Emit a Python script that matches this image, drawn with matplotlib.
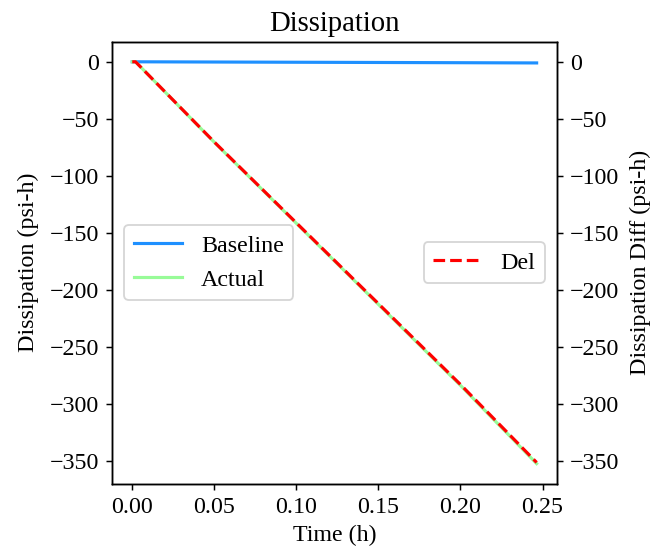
import matplotlib
matplotlib.use("Agg")
import matplotlib.pyplot as plt

plt.rcParams['font.family'] = ['Liberation Serif', 'DejaVu Serif']
plt.rcParams['font.size'] = 13

# значення
time_h = [0.0, 0.002, 0.05, 0.10, 0.15, 0.20, 0.2464]
baseline = [0.0, 0.0, -0.2, -0.4, -0.6, -0.8, -1.0]
actual = [0.0, 0.0, -70.5, -141.5, -212.5, -283.5, -352.0]
delta = [0.0, 0.0, -70.3, -141.1, -211.9, -282.7, -351.0]

dpi = 133
fig, ax = plt.subplots(figsize=(659 / dpi, 556 / dpi), dpi=dpi)
fig.subplots_adjust(left=0.17, right=0.845, top=0.925, bottom=0.13)

ax.plot(time_h, baseline, color='dodgerblue', linewidth=1.7, label='Baseline')
ax.plot(time_h, actual, color='palegreen', linewidth=1.7, label='Actual')
ax.set_xlabel('Time (h)')
ax.set_ylabel('Dissipation (psi-h)', labelpad=6)
ax.set_title('Dissipation')
ax.legend(loc='center left')

ax2 = ax.twinx()
ax2.plot(time_h, delta, color='red', linestyle='--', linewidth=1.7, label='Del')
ax2.set_ylabel('Dissipation Diff (psi-h)', labelpad=6)
ax2.set_ylim(ax.get_ylim())
ax2.legend(loc='center right')

fig.savefig('out.png', dpi=dpi)
